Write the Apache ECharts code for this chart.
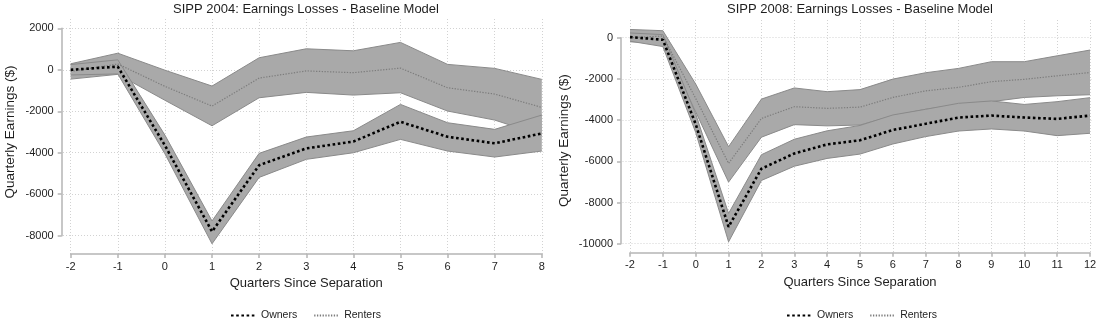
<!DOCTYPE html>
<html><head><meta charset="utf-8">
<script src="https://cdn.jsdelivr.net/npm/echarts@6/dist/echarts.min.js"></script>
<style>html,body{margin:0;padding:0;background:#fff}#c{width:1100px;height:322px}</style>
</head><body><div id="c"></div>
<script>
// ---------- DATA ----------
const quarters2004 = [-2, -1, 0, 1, 2, 3, 4, 5, 6, 7, 8];
const owners2004   = [0, 150, -3650, -7800, -4600, -3790, -3460, -2510, -3230, -3545, -3070];
const ownersLo2004 = [-250, -200, -4050, -8390, -5190, -4318, -4000, -3355, -3918, -4207, -3918];
const ownersHi2004 = [250, 480, -3150, -7290, -4030, -3243, -2940, -1670, -2554, -2873, -2183];
const renters2004   = [-80, 280, -800, -1750, -400, -55, -140, 80, -867, -1170, -1815];
const rentersLo2004 = [-450, -220, -1470, -2700, -1350, -1090, -1220, -1108, -1990, -2424, -3170];
const rentersHi2004 = [290, 800, -20, -785, 580, 1012, 916, 1320, 260, 67, -463];

const quarters2008 = [-2, -1, 0, 1, 2, 3, 4, 5, 6, 7, 8, 9, 10, 11, 12];
const owners2008   = [30, -100, -4200, -9180, -6360, -5620, -5180, -4980, -4480, -4180, -3875, -3780, -3875, -3940, -3780];
const ownersLo2008 = [-170, -430, -4600, -9910, -6930, -6240, -5860, -5650, -5160, -4800, -4530, -4430, -4530, -4755, -4640];
const ownersHi2008 = [230, 150, -3700, -8530, -5680, -4930, -4520, -4260, -3750, -3475, -3185, -3070, -3240, -3105, -2910];
const renters2008   = [0, 80, -2950, -6100, -3920, -3350, -3430, -3370, -2900, -2580, -2410, -2135, -2020, -1850, -1690];
const rentersLo2008 = [-200, -250, -3600, -7010, -4830, -4220, -4280, -4240, -3790, -3475, -3240, -3105, -2900, -2820, -2770];
const rentersHi2008 = [400, 340, -2250, -5290, -2980, -2440, -2620, -2520, -2010, -1700, -1490, -1165, -1165, -880, -600];

const yRange2004 = [-8000, 2000];
const yRange2008 = [-10000, 0];
const yStep = 2000;

const title2004 = 'SIPP 2004: Earnings Losses - Baseline Model';
const title2008 = 'SIPP 2008: Earnings Losses - Baseline Model';
const xTitle = 'Quarters Since Separation';
const yTitle = 'Quarterly Earnings ($)';
const legendNames = ['Owners', 'Renters'];

// ---------- STYLE / LAYOUT ----------
const FONT = '"Liberation Sans", Arial, sans-serif';
const AX = '#b5b5b5';
const GRIDC = '#d2d2d2';
const FILL = '#a9a9a9';
const EDGE = '#8a8a8a';
const TXT = '#1e1e1e';

const panels = [
  {left:70.7, right:541.8, top:28.3, bottom:235.7, axisBottom:254, gridTop:19, hLeft:63, hRight:543.5,
   yOff:9, nameGapY:44, nameGapX:23, legendLeft:230, cx:306,
   yr:yRange2004, q:quarters2004, title:title2004,
   own:owners2004, ownLo:ownersLo2004, ownHi:ownersHi2004, ren:renters2004, renLo:rentersLo2004, renHi:rentersHi2004},
  {left:630, right:1090, top:37.7, bottom:243.7, axisBottom:252.7, gridTop:20, hLeft:622.5, hRight:1093,
   yOff:9, nameGapY:50, nameGapX:22.5, legendLeft:786, cx:860,
   yr:yRange2008, q:quarters2008, title:title2008,
   own:owners2008, ownLo:ownersLo2008, ownHi:ownersHi2008, ren:renters2008, renLo:rentersLo2008, renHi:rentersHi2008}
];

const grid = [], xAxis = [], yAxis = [], series = [], title = [], legend = [];
const lbl = {fontFamily:FONT, fontSize:11, color:TXT};

panels.forEach((p, k) => {
  const g0 = 3*k, g1 = 3*k+1, g2 = 3*k+2;
  const cats = p.q.map(String);
  grid.push({left:p.left, top:p.top, width:p.right-p.left, height:p.bottom-p.top});
  grid.push({left:p.hLeft, top:p.top, width:p.hRight-p.hLeft, height:p.bottom-p.top});
  grid.push({left:p.left, top:p.gridTop, width:p.right-p.left, height:p.axisBottom-p.gridTop});

  xAxis.push({gridIndex:g0, type:'category', data:cats, boundaryGap:false,
    offset:p.axisBottom-p.bottom,
    axisLine:{show:true, onZero:false, lineStyle:{color:AX, width:1.5}},
    axisTick:{show:true, length:4, interval:0, lineStyle:{color:AX, width:1.5}},
    axisLabel:Object.assign({margin:7, interval:0}, lbl),
    splitLine:{show:false},
    name:xTitle, nameLocation:'middle', nameGap:p.nameGapX,
    nameTextStyle:{fontFamily:FONT, fontSize:13, color:TXT}});
  xAxis.push({gridIndex:g1, type:'value', min:0, max:1, show:false});
  xAxis.push({gridIndex:g2, type:'category', data:cats, boundaryGap:false,
    axisLine:{show:false}, axisTick:{show:false}, axisLabel:{show:false},
    splitLine:{show:true, interval:0, lineStyle:{color:GRIDC, width:1, type:[1,2]}}});

  yAxis.push({gridIndex:g0, type:'value', min:p.yr[0], max:p.yr[1], interval:yStep,
    offset:p.yOff,
    axisLine:{show:true, onZero:false, lineStyle:{color:AX, width:1.5}},
    axisTick:{show:true, length:4, lineStyle:{color:AX, width:1.5}},
    axisLabel:Object.assign({margin:8, showMinLabel:true, showMaxLabel:true, formatter: v => String(v)}, lbl),
    splitLine:{show:false},
    name:yTitle, nameLocation:'middle', nameGap:p.nameGapY, nameRotate:90,
    nameTextStyle:{fontFamily:FONT, fontSize:13.5, color:TXT}});
  yAxis.push({gridIndex:g1, type:'value', min:p.yr[0], max:p.yr[1], interval:yStep,
    axisLine:{show:false}, axisTick:{show:false}, axisLabel:{show:false},
    splitLine:{show:true, lineStyle:{color:GRIDC, width:1, type:[1,2]}}});
  yAxis.push({gridIndex:g2, type:'value', min:0, max:1, show:false});

  const diff = (hi, lo) => hi.map((v, i) => v - lo[i]);
  const base = {type:'line', xAxisIndex:g0, yAxisIndex:g0, symbol:'none', clip:false,
    silent:true, animation:false, stackStrategy:'all'};

  // Renters band
  series.push(Object.assign({}, base, {name:'renLo'+k, stack:'ren'+k, data:p.renLo,
    lineStyle:{color:EDGE, width:1}, z:2.1}));
  series.push(Object.assign({}, base, {name:'renHi'+k, stack:'ren'+k, data:diff(p.renHi, p.renLo),
    lineStyle:{color:EDGE, width:1}, areaStyle:{color:FILL, opacity:1}, z:2}));
  // Owners band
  series.push(Object.assign({}, base, {name:'ownLo'+k, stack:'own'+k, data:p.ownLo,
    lineStyle:{color:EDGE, width:1}, z:3.1}));
  series.push(Object.assign({}, base, {name:'ownHi'+k, stack:'own'+k, data:diff(p.ownHi, p.ownLo),
    lineStyle:{color:EDGE, width:1}, areaStyle:{color:FILL, opacity:1}, z:3}));
  // Lines
  series.push(Object.assign({}, base, {name:'Renters', data:p.ren, color:'#7c7c7c',
    lineStyle:{color:'#7c7c7c', width:1.2, type:[1.3,1.5]}, z:4}));
  series.push(Object.assign({}, base, {name:'Owners', data:p.own, color:'#000',
    lineStyle:{color:'#000', width:2.6, type:[2.6,2.6]}, z:5}));

  title.push({text:p.title, left:p.cx, top:3, textAlign:'center', padding:0,
    textStyle:{fontFamily:FONT, fontSize:13, fontWeight:'normal', color:TXT}});
  legend.push({data:legendNames, left:p.legendLeft, top:310, itemWidth:25, itemHeight:10,
    itemGap:16, padding:0, selectedMode:false,
    itemStyle:{opacity:0, borderWidth:0},
    textStyle:{fontFamily:FONT, fontSize:10.5, color:TXT}});
});

const chart = echarts.init(document.getElementById('c'), null, {renderer:'canvas'});
chart.setOption({backgroundColor:'#fff', animation:false, grid, xAxis, yAxis, series, title, legend});
</script>
</body></html>
